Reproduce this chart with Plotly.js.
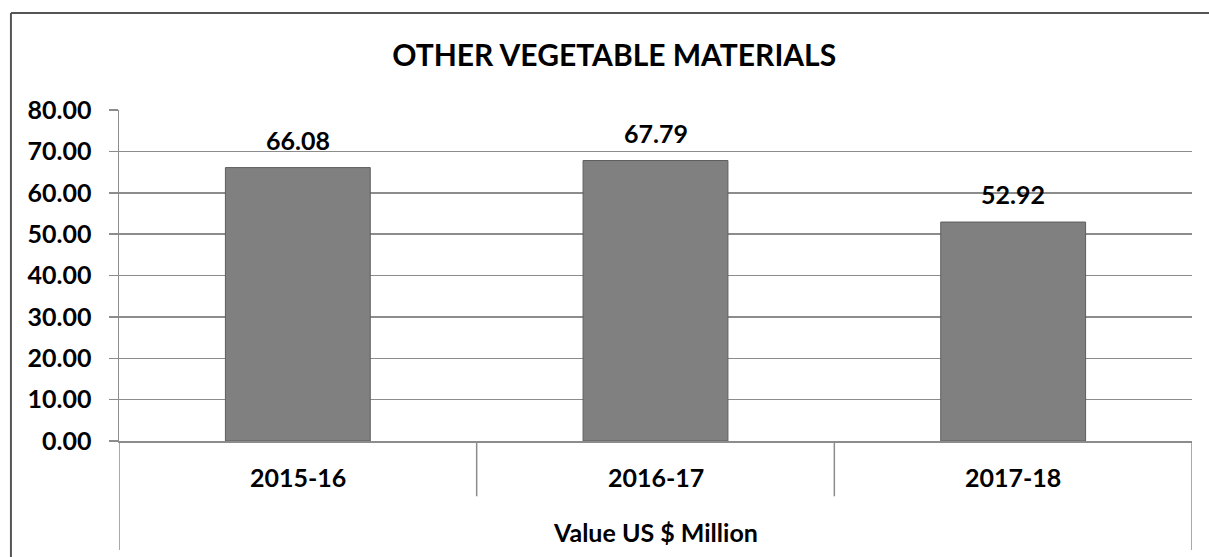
<!DOCTYPE html>
<html>
<head>
<meta charset="utf-8">
<script src="https://cdn.plot.ly/plotly-3.0.1.min.js"></script>
<style>html,body{margin:0;padding:0;background:#fff;}#chart{width:1209px;height:557px;}</style>
</head>
<body>
<div id="chart"></div>
<script>
const categories = ["2015-16", "2016-17", "2017-18"];
const values = [66.08, 67.79, 52.92];
const valueLabels = ["66.08", "67.79", "52.92"];
const yTickValues = [0, 10, 20, 30, 40, 50, 60, 70, 80];
const chartTitle = "OTHER VEGETABLE MATERIALS";
const groupLabel = "Value US $ Million";

const FONT = "Lato, 'Open Sans', sans-serif";
const GRID = "#8c8c8c";

const trace = {
  type: "bar",
  x: categories,
  y: values,
  marker: {color: "#808080", line: {color: "#5e5e5e", width: 1}},
  hoverinfo: "skip"
};

const annotations = [];
categories.forEach((c, i) => {
  annotations.push({
    x: c, y: values[i], xref: "x", yref: "y",
    text: "<b>" + valueLabels[i] + "</b>",
    showarrow: false, yanchor: "middle", yshift: 28,
    font: {family: FONT, size: 25, color: "#000"}
  });
  annotations.push({
    x: c, y: -0.1088, xref: "x", yref: "paper",
    text: "<b>" + c + "</b>",
    showarrow: false, yanchor: "middle",
    font: {family: FONT, size: 25, color: "#000"}
  });
});
annotations.push({
  x: 0.5, y: -0.275, xref: "paper", yref: "paper",
  text: "<b>" + groupLabel + "</b>",
  showarrow: false, yanchor: "middle", xanchor: "center",
  font: {family: FONT, size: 25, color: "#000"}
});

const n = categories.length;
const shapes = [];
// category separators below the axis
for (let k = 0; k <= n; k++) {
  const edge = k === 0 || k === n;
  shapes.push({
    type: "line", xref: "x", yref: "paper",
    x0: k - 0.5, x1: k - 0.5, y0: 0, y1: edge ? -0.329 : -0.167,
    line: {color: GRID, width: 1.5}
  });
}
// outer chart border (top and left visible)
shapes.push({type: "line", xref: "paper", yref: "paper", x0: -0.1007, x1: 1.05, y0: 1.293, y1: 1.293, line: {color: "#555", width: 2}});
shapes.push({type: "line", xref: "paper", yref: "paper", x0: -0.1007, x1: -0.1007, y0: 1.293, y1: -0.5, line: {color: "#555", width: 2}});

const layout = {
  width: 1209, height: 557,
  margin: {l: 119, r: 17, t: 110, b: 116, pad: 0},
  paper_bgcolor: "#fff", plot_bgcolor: "#fff",
  showlegend: false,
  bargap: 0.595,
  title: {
    text: "<b>" + chartTitle + "</b>",
    x: 0.508, xref: "container", xanchor: "center",
    y: 0.8995, yref: "container", yanchor: "middle",
    font: {family: FONT, size: 30, color: "#000"}
  },
  xaxis: {
    type: "category", range: [-0.5, n - 0.5],
    showticklabels: false, ticks: "",
    showgrid: false, zeroline: false,
    showline: true, linecolor: GRID, linewidth: 1.5
  },
  yaxis: {
    range: [0, 80], tickvals: yTickValues, tickformat: ".2f",
    ticks: "outside", ticklen: 9, tickcolor: GRID, tickwidth: 1.5,
    showgrid: true, gridcolor: GRID, gridwidth: 1.5,
    zeroline: false,
    showline: true, linecolor: GRID, linewidth: 1.5,
    tickfont: {family: FONT, size: 25, color: "#000", weight: "bold"},
    ticklabelstandoff: 12
  },
  annotations: annotations,
  shapes: shapes
};

Plotly.newPlot("chart", [trace], layout, {displayModeBar: false, staticPlot: true});
</script>
</body>
</html>
